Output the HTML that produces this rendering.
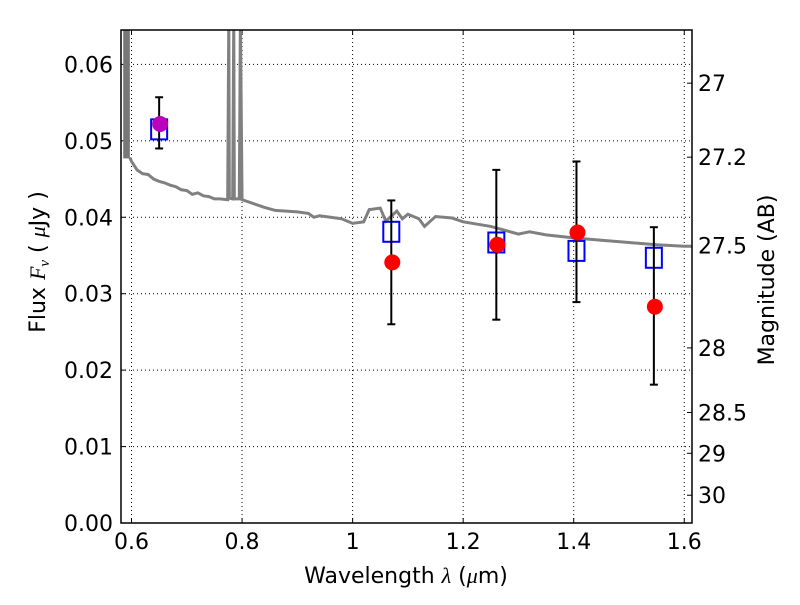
<!DOCTYPE html>
<html><head><meta charset="utf-8"><style>
body{margin:0;background:#fff}
svg text{font-family:"DejaVu Sans","Liberation Sans",sans-serif;fill:#000}
</style></head><body>
<svg id="c" width="800" height="600" xmlns="http://www.w3.org/2000/svg"></svg>
<script>
const xTicks=[0.6,0.8,1.0,1.2,1.4,1.6];
const xTickLabels=["0.6","0.8","1","1.2","1.4","1.6"];
const yTicks=[0,0.01,0.02,0.03,0.04,0.05,0.06];
const yTickLabels=["0.00","0.01","0.02","0.03","0.04","0.05","0.06"];
const magTicks=[27,27.2,27.5,28,28.5,29,30];
const magTickLabels=["27","27.2","27.5","28","28.5","29","30"];
const obsWave=[0.65,1.07,1.26,1.405,1.545];
const obsFlux=[0.0522,0.0341,0.0364,0.0380,0.0283];
const obsLo=[0.0490,0.0260,0.0266,0.0289,0.0181];
const obsHi=[0.0557,0.0422,0.0462,0.0473,0.0387];
const modelFlux=[0.0515,0.0381,0.0367,0.0356,0.0347];
const specWave=[0.597,0.6,0.61,0.62,0.63,0.64,0.65,0.66,0.67,0.68,0.69,0.7,0.71,0.72,0.73,0.74,0.75,0.76,0.774,0.776,0.777,0.783,0.785,0.786,0.795,0.797,0.8,0.82,0.84,0.86,0.88,0.9,0.92,0.93,0.94,0.96,0.98,1.0,1.02,1.03,1.05,1.06,1.08,1.09,1.1,1.12,1.13,1.15,1.18,1.2,1.25,1.3,1.32,1.35,1.4,1.45,1.5,1.55,1.6,1.615];
const specFlux=[0.0478,0.0473,0.0462,0.0457,0.0456,0.0450,0.0447,0.0445,0.0442,0.0440,0.0436,0.0435,0.0430,0.0432,0.0428,0.0427,0.0424,0.0424,0.0423,0.066,0.0425,0.0424,0.066,0.0424,0.0424,0.066,0.0423,0.0418,0.0413,0.0409,0.0408,0.0407,0.0405,0.0400,0.0402,0.0400,0.0398,0.0392,0.0394,0.0410,0.0412,0.0395,0.0408,0.0398,0.0404,0.0398,0.0388,0.0401,0.0399,0.0394,0.0388,0.0378,0.0381,0.0377,0.0373,0.0370,0.0367,0.0364,0.0362,0.0362];
const L=121,R=692,T=30,B=523,X0=0.581,X1=1.614,Y0=0,Y1=0.0645;
const sx=v=>L+(v-X0)/(X1-X0)*(R-L);
const sy=v=>B-(v-Y0)/(Y1-Y0)*(B-T);
const magToFlux=m=>Math.pow(10,(23.9-m)/2.5);
const svg=document.getElementById('c');
const NS='http://www.w3.org/2000/svg';
function mk(t,a,p){const e=document.createElementNS(NS,t);for(const k in a)e.setAttribute(k,a[k]);(p||svg).appendChild(e);return e;}
xTicks.forEach((v,i)=>{
 const g=mk('line',{x1:sx(v),x2:sx(v),y1:T,y2:B,stroke:'#000','stroke-width':1,'stroke-dasharray':'1,3'});
 
 
 mk('line',{x1:sx(v),x2:sx(v),y1:B,y2:B-5,stroke:'#000'});mk('line',{x1:sx(v),x2:sx(v),y1:T,y2:T+5,stroke:'#000'});
 const t=mk('text',{x:sx(v),y:B+26,'text-anchor':'middle','font-size':22});t.textContent=xTickLabels[i];
 
 
});
yTicks.forEach((v,i)=>{
 const g=mk('line',{x1:L,x2:R,y1:sy(v),y2:sy(v),stroke:'#000','stroke-width':1,'stroke-dasharray':'1,3'});
 
 
 mk('line',{x1:L,x2:L+5,y1:sy(v),y2:sy(v),stroke:'#000'});
 const t=mk('text',{x:L-8,y:sy(v)+8,'text-anchor':'end','font-size':22});t.textContent=yTickLabels[i];
 
 
});
magTicks.forEach((m,i)=>{
 const y=sy(magToFlux(m));
 mk('line',{x1:R-5,x2:R,y1:y,y2:y,stroke:'#000'});
 const t=mk('text',{x:R+6,y:y+8,'font-size':22});t.textContent=magTickLabels[i];
 
 
});
const d=mk('defs',{});const cp=mk('clipPath',{id:'cp'},d);mk('rect',{x:L,y:T,width:R-L,height:B-T},cp);
const nb=mk('rect',{x:sx(0.585),y:T,width:sx(0.597)-sx(0.585),height:sy(0.0477)-T,fill:'#777','clip-path':'url(#cp)'});


const sp=mk('polyline',{points:specWave.map((w,i)=>sx(w)+','+sy(specFlux[i])).join(' '),fill:'none',stroke:'#808080','stroke-width':3,'clip-path':'url(#cp)'});


obsWave.forEach((w,i)=>{
 const x=sx(w);
 const m=mk('rect',{x:x-8,y:sy(modelFlux[i])-10,width:16,height:20,fill:'none',stroke:'#0000ff','stroke-width':2});
 
 
 const e=mk('g',{stroke:'#000','stroke-width':2});
 
 
 mk('line',{x1:x,x2:x,y1:sy(obsLo[i]),y2:sy(obsHi[i])},e);
 mk('line',{x1:x-4,x2:x+4,y1:sy(obsLo[i]),y2:sy(obsLo[i])},e);
 mk('line',{x1:x-4,x2:x+4,y1:sy(obsHi[i]),y2:sy(obsHi[i])},e);
 const c=mk('circle',{cx:x+1,cy:sy(obsFlux[i]),r:8,fill:i===0?'#bb00bb':'#ff0000'});
 
 
});
const fr=mk('rect',{x:L,y:T,width:R-L,height:B-T,fill:'none',stroke:'#000','stroke-width':1.5});


let t=mk('text',{x:406,y:583,'text-anchor':'middle','font-size':22});
t.innerHTML='Wavelength  <tspan font-style="italic" font-family="Liberation Serif">λ</tspan> (<tspan font-style="italic" font-family="Liberation Serif">μ</tspan>m)';
t.setAttribute('xml:space','preserve');


t=mk('text',{x:0,y:0,'text-anchor':'middle','font-size':22,transform:'translate(45,262) rotate(-90)'});
t.innerHTML='Flux  <tspan font-style="italic" font-family="Liberation Serif">F</tspan><tspan font-style="italic" font-family="Liberation Serif" font-size="15" dy="4">ν</tspan><tspan dy="-4">  (  </tspan><tspan font-style="italic" font-family="Liberation Serif">μ</tspan>Jy )';


t=mk('text',{x:0,y:0,'text-anchor':'middle','font-size':22,transform:'translate(774,280) rotate(-90)'});
t.textContent='Magnitude (AB)';


</script>
</body></html>
